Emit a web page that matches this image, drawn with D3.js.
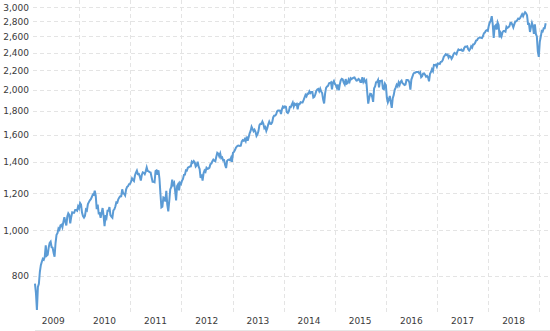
<!DOCTYPE html>
<html>
<head>
<meta charset="utf-8">
<script src="https://cdn.jsdelivr.net/npm/d3@7/dist/d3.min.js"></script>
<style>
  html, body { margin: 0; padding: 0; background: #fff; }
  svg { display: block; }
  text { font-family: "DejaVu Sans", Verdana, sans-serif; font-size: 9px; fill: #3a3a3a; }
</style>
</head>
<body>
<svg id="chart" width="550" height="331"></svg>
<script>
// Weekly closes (Fridays), each series begins at its start date
const start2009 = "2009-02-20";
const closes2009 = [770,735,676,757,769,816,843,857,870,866,878,929,883,887,919,940,946,921,919,896,879,940,979,987,1010,1004,1026,1029,1016,1043,1068,1044,1025,1071,1088,1080,1036,1069,1093,1091,1091,1106,1106,1102,1126,1115];
const start2010 = "2010-01-08";
const closes2010 = [1145,1136,1092,1074,1066,1075,1109,1104,1139,1150,1160,1167,1179,1194,1192,1217,1187,1111,1136,1088,1089,1064,1092,1117,1076,1022,1078,1065,1102,1102,1122,1079,1071,1065,1104,1110,1125,1149,1147,1166,1176,1183,1183,1225,1200,1199,1189,1225,1240,1244,1257,1258];
const start2011 = "2011-01-07";
const closes2011 = [1272,1293,1283,1276,1311,1329,1343,1320,1321,1304,1279,1314,1332,1329,1320,1338,1364,1340,1338,1333,1331,1300,1271,1271,1268,1340,1344,1316,1345,1292,1199,1120,1124,1177,1174,1154,1216,1136,1099,1155,1224,1238,1285,1253,1264,1216,1159,1244,1255,1219,1265,1258];
const start2012 = "2012-01-06";
const closes2012 = [1278,1289,1315,1316,1345,1343,1362,1366,1370,1371,1404,1397,1408,1398,1370,1378,1403,1369,1353,1295,1318,1278,1325,1343,1335,1362,1355,1357,1363,1386,1391,1406,1418,1411,1407,1438,1466,1460,1441,1461,1428,1433,1412,1414,1380,1360,1409,1416,1418,1413,1430,1402];
const start2013 = "2013-01-04";
const closes2013 = [1466,1472,1486,1503,1513,1518,1520,1516,1518,1551,1561,1556,1569,1553,1588,1555,1582,1614,1633,1667,1650,1631,1643,1626,1593,1606,1632,1680,1692,1691,1710,1691,1655,1664,1633,1655,1688,1710,1692,1691,1703,1745,1760,1762,1771,1798,1805,1806,1805,1775,1818,1841];
const start2014 = "2014-01-03";
const closes2014 = [1832,1842,1839,1790,1783,1797,1838,1836,1859,1878,1841,1866,1857,1865,1816,1864,1863,1881,1878,1878,1900,1924,1950,1936,1963,1961,1985,1968,1978,1978,1925,1931,1955,1988,2003,2008,1985,2011,1982,1968,1906,1870,1965,2018,2032,2039,2064,2068,2075,2003,2071,2089];
const start2015 = "2015-01-02";
const closes2015 = [2058,2045,2019,2051,1995,2055,2097,2110,2104,2071,2053,2108,2061,2067,2102,2081,2117,2108,2116,2123,2126,2107,2092,2094,2110,2102,2077,2077,2127,2080,2104,2078,2092,1971,1868,1921,1961,1958,1931,1884,2015,2033,2075,2079,2099,2023,2089,2090,2092,2012,2006,2061,2044];
const start2016 = "2016-01-08";
const closes2016 = [1922,1880,1907,1940,1880,1829,1918,1948,1999,2022,2050,2035,2073,2048,2081,2092,2065,2057,2047,2052,2099,2099,2096,2071,2001,2103,2130,2162,2175,2174,2183,2184,2184,2169,2180,2128,2139,2165,2168,2153,2133,2141,2126,2085,2164,2182,2213,2192,2260,2258,2264,2239];
const start2017 = "2017-01-06";
const closes2017 = [2277,2275,2271,2295,2297,2316,2351,2367,2383,2373,2378,2344,2363,2355,2329,2349,2384,2399,2391,2382,2416,2439,2432,2433,2438,2423,2425,2459,2473,2472,2477,2441,2426,2443,2477,2461,2500,2502,2519,2549,2553,2575,2581,2588,2582,2579,2602,2642,2652,2676,2683,2674];
const start2018 = "2018-01-05";
const closes2018 = [2743,2786,2810,2873,2762,2581,2732,2747,2691,2786,2752,2588,2641,2604,2656,2670,2670,2663,2728,2713,2721,2735,2779,2780,2755,2718,2760,2801,2802,2819,2840,2833,2850,2875,2902,2872,2905,2930,2914,2886,2767,2768,2659,2723,2781,2736,2633,2760,2633,2600,2417,2351];
const start2019 = "2019-01-04";
const closes2019 = [2532,2596,2671,2665,2707,2708,2776];

const yTicks = [800,1000,1200,1400,1600,1800,2000,2200,2400,2600,2800,3000];
const yearLabels = ["2009","2010","2011","2012","2013","2014","2015","2016","2017","2018"];

const parse = d3.timeParse("%Y-%m-%d");
const series = [
  [start2009, closes2009],[start2010, closes2010],[start2011, closes2011],
  [start2012, closes2012],[start2013, closes2013],[start2014, closes2014],
  [start2015, closes2015],[start2016, closes2016],[start2017, closes2017],
  [start2018, closes2018],[start2019, closes2019]
];
const data = [];
series.forEach(([s, vals]) => {
  const d0 = parse(s);
  vals.forEach((v, i) => data.push({ date: d3.timeDay.offset(d0, 7 * i), value: v }));
});

const svg = d3.select("#chart");
const plotLeft = 33, plotRight = 550, plotTop = 0, plotBottom = 313;

const x = d3.scaleTime()
  .domain([parse("2009-02-06"), parse("2019-03-18")])
  .range([plotLeft, plotRight]);
const y = d3.scaleLog()
  .domain([666, 3112])
  .range([plotBottom, plotTop]);

// horizontal grid
svg.append("g").selectAll("line").data(yTicks).join("line")
  .attr("x1", plotLeft).attr("x2", plotRight)
  .attr("y1", d => Math.round(y(d)) + 0.5).attr("y2", d => Math.round(y(d)) + 0.5)
  .attr("stroke", "#e4e4e4").attr("stroke-width", 1).attr("stroke-dasharray", "4,3");

// vertical grid at year boundaries
const yearStarts = d3.range(2010, 2020).map(yr => new Date(yr, 0, 1));
svg.append("g").selectAll("line").data(yearStarts).join("line")
  .attr("x1", d => Math.round(x(d)) + 0.5).attr("x2", d => Math.round(x(d)) + 0.5)
  .attr("y1", plotTop).attr("y2", plotBottom)
  .attr("stroke", "#e4e4e4").attr("stroke-width", 1).attr("stroke-dasharray", "4,3");

// y labels
svg.append("g").selectAll("text").data(yTicks).join("text")
  .attr("x", 29).attr("y", d => y(d))
  .attr("text-anchor", "end").attr("dy", "0.35em")
  .text(d => d3.format(",")(d));

// x labels (mid-year)
svg.append("g").selectAll("text").data(yearLabels).join("text")
  .attr("x", d => x(new Date(+d, 6, 1)))
  .attr("y", 324)
  .attr("text-anchor", "middle")
  .text(d => d);

// bottom axis line
svg.append("line")
  .attr("x1", 35).attr("x2", plotRight).attr("y1", 330.5).attr("y2", 330.5)
  .attr("stroke", "#e6e6e6").attr("stroke-width", 1);

// price line
const line = d3.line().x(d => x(d.date)).y(d => y(d.value));
svg.append("path").datum(data)
  .attr("d", line)
  .attr("fill", "none")
  .attr("stroke", "#5b9bd5")
  .attr("stroke-width", 2)
  .attr("stroke-linejoin", "miter");
</script>
</body>
</html>
